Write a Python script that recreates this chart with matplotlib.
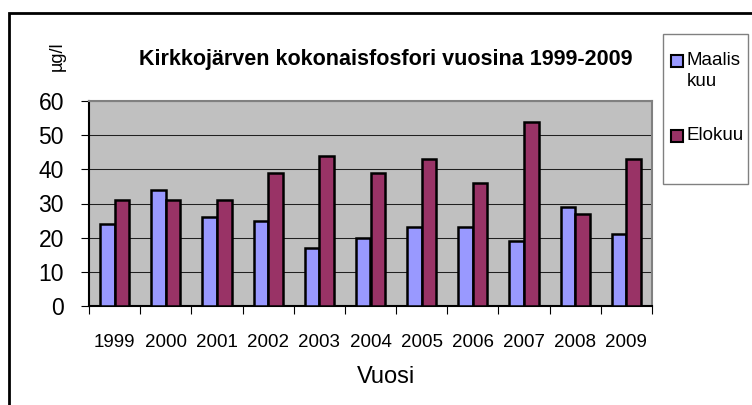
import matplotlib
matplotlib.use('Agg')
import matplotlib.pyplot as plt
from matplotlib.patches import Rectangle
import numpy as np

plt.rcParams['font.family'] = ['Liberation Sans', 'DejaVu Sans']

vuodet = ['1999', '2000', '2001', '2002', '2003', '2004', '2005', '2006', '2007', '2008', '2009']
maaliskuu = [24, 34, 26, 25, 17, 20, 23, 23, 19, 29, 21]
elokuu = [31, 31, 31, 39, 44, 39, 43, 36, 54, 27, 43]

vari_maalis = '#9999FF'
vari_elo = '#993366'

W, H = 752, 405
fig = plt.figure(figsize=(W/100, H/100), dpi=100)
ax = fig.add_axes([89/W, 1 - 306/H, (652 - 89)/W, (306 - 101)/H])

x = np.arange(len(vuodet))
w = 1 / 3.5
ax.set_facecolor('#C0C0C0')
ax.bar(x - w/2, maaliskuu, w, color=vari_maalis, edgecolor='black', linewidth=1.8, zorder=3)
ax.bar(x + w/2, elokuu, w, color=vari_elo, edgecolor='black', linewidth=1.8, zorder=3)

ax.set_xlim(-0.5, len(vuodet) - 0.5)
ax.set_ylim(0, 60)
ax.set_yticks(range(0, 61, 10))
ax.yaxis.grid(True, color='#202020', linewidth=0.75, zorder=1)
ax.set_xticks(x)
ax.set_xticklabels(vuodet, fontsize=13.5)
ax.set_xticks(np.arange(-0.5, len(vuodet)), minor=True)
ax.tick_params(axis='x', which='major', length=0, pad=20)
ax.tick_params(axis='x', which='minor', length=6, width=0.8, color='black')
ax.tick_params(axis='y', length=6, width=0.8, labelsize=16.5, pad=12)

for s in ['top', 'right']:
    ax.spines[s].set_color('#808080')
    ax.spines[s].set_linewidth(1.5)
ax.spines['left'].set_linewidth(1.5)
ax.spines['bottom'].set_linewidth(1.5)

ax.set_xlabel('Vuosi', fontsize=17)
ax.xaxis.set_label_coords((386 - 89)/563, -77/205)
ax.xaxis.label.set_va('baseline')

fig.text(386/W, 1 - 65/H, 'Kirkkojärven kokonaisfosfori vuosina 1999-2009',
         fontsize=15.5, fontweight='bold', ha='center', va='baseline')
fig.text(57/W, 1 - 56/H, 'µg/l', fontsize=13, rotation=90, ha='center', va='center')

# selite
fig.patches.append(Rectangle((663/W, 1 - 184/H), 85/W, 150/H, transform=fig.transFigure,
                             facecolor='white', edgecolor='#808080', linewidth=1))
for nimi, vari, yk in [('Maalis\nkuu', vari_maalis, 61), ('Elokuu', vari_elo, 136)]:
    fig.patches.append(Rectangle((671/W, 1 - (yk + 6)/H), 12/W, 12/H, transform=fig.transFigure,
                                 facecolor=vari, edgecolor='black', linewidth=1.5))
    fig.text(687/W, 1 - (yk - 9)/H, nimi, fontsize=13.5, ha='left', va='top', linespacing=1.3)

fig.patches.append(Rectangle((9/W, -0.1), 1.1, 1 - 13/H + 0.1, transform=fig.transFigure,
                             fill=False, edgecolor='black', linewidth=2))

fig.savefig('out.png', dpi=100)
